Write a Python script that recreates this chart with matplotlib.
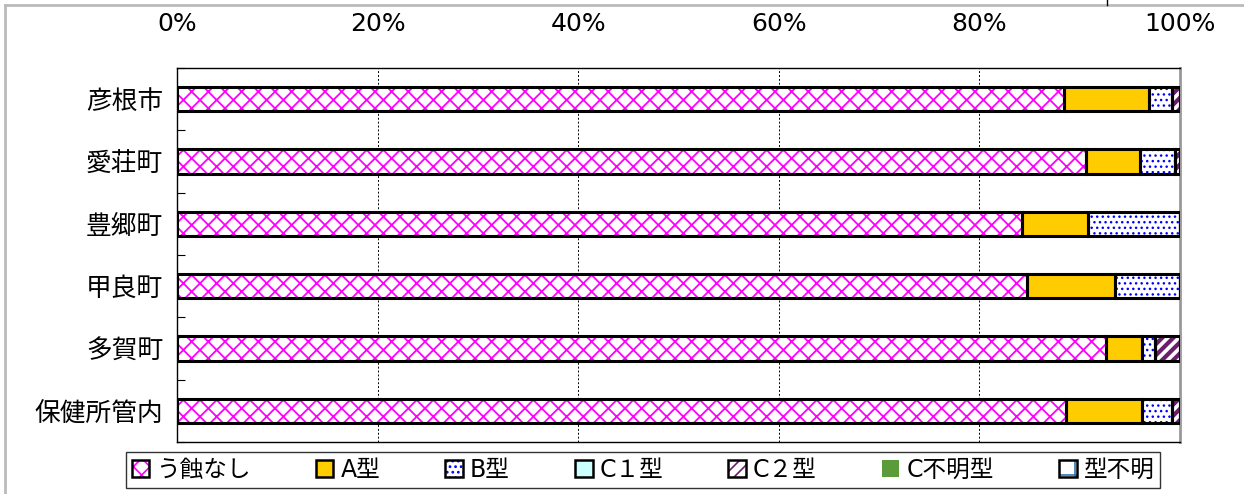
import matplotlib
matplotlib.use("Agg")
import matplotlib.pyplot as plt
from matplotlib.patches import Patch
from matplotlib.lines import Line2D
from matplotlib.legend_handler import HandlerTuple
import numpy as np

plt.rcParams['font.family'] = ['DejaVu Sans', 'Noto Sans CJK JP']
plt.rcParams['hatch.linewidth'] = 1.2

categories = ['彦根市', '愛荘町', '豊郷町', '甲良町', '多賀町', '保健所管内']
series_names = ['う蝕なし', 'A型', 'B型', 'C１型', 'C２型', 'C不明型', '型不明']
no_caries = [88.4, 90.6, 84.2, 84.7, 92.6, 88.6]
type_a = [8.5, 5.4, 6.6, 8.8, 3.6, 7.6]
type_b = [2.3, 3.5, 9.2, 6.5, 1.3, 3.0]
type_c1 = [0.0, 0.0, 0.0, 0.0, 0.0, 0.0]
type_c2 = [0.8, 0.5, 0.0, 0.0, 2.5, 0.8]
type_c_unknown = [0.0, 0.0, 0.0, 0.0, 0.0, 0.0]
type_unknown = [0.0, 0.0, 0.0, 0.0, 0.0, 0.0]
x_ticks = [0, 20, 40, 60, 80, 100]
x_tick_labels = ['0%', '20%', '40%', '60%', '80%', '100%']

series = [no_caries, type_a, type_b, type_c1, type_c2, type_c_unknown, type_unknown]
styles = [
    dict(face='white', hatch='xx', hcol='#FF00FF', hlw=1.3),
    dict(face='#FFCC00', hatch=None, hcol='#FFCC00', hlw=1.0),
    dict(face='white', hatch='...', hcol='#0000FF', hlw=1.0),
    dict(face='#CCFFFF', hatch=None, hcol='#CCFFFF', hlw=1.0),
    dict(face='white', hatch='///', hcol='#6B1E6B', hlw=3.0),
    dict(face='#5B9B3A', hatch=None, hcol='#5B9B3A', hlw=1.0),
    dict(face='white', hatch='+', hcol='#2E75B6', hlw=2.0),
]


def hatch_patch_kwargs(st):
    return dict(facecolor=st['face'], hatch=st['hatch'], edgecolor=st['hcol'], linewidth=0)


W, H = 1244, 494
fig = plt.figure(figsize=(W / 100, H / 100), dpi=100)
ax = fig.add_axes([177 / W, 1 - 442 / H, (1180 - 177) / W, (442 - 68) / H])

y = np.arange(len(categories))
left = np.zeros(len(categories))
bar_h = 0.39
for vals, st in zip(series, styles):
    vals = np.array(vals)
    with plt.rc_context({'hatch.linewidth': st['hlw']}):
        bars = ax.barh(y, vals, left=left, height=bar_h, color=st['face'],
                       hatch=st['hatch'], edgecolor=st['hcol'], linewidth=0, zorder=3)
        for b in bars:
            if hasattr(b, 'set_hatch_linewidth'):
                b.set_hatch_linewidth(st['hlw'])
    ax.barh(y, vals, left=left, height=bar_h, fill=False,
            edgecolor='black', linewidth=2.2, zorder=4)
    left = left + vals

ax.set_xlim(0, 100)
ax.set_ylim(len(categories) - 0.5, -0.5)
ax.set_yticks(y)
ax.set_yticklabels(categories, fontsize=18.5)
ax.set_yticks(np.arange(len(categories) + 1) - 0.5, minor=True)
ax.tick_params(axis='y', which='major', length=0, pad=10)
ax.tick_params(axis='y', which='minor', length=6, direction='in', width=0.8)

ax.xaxis.tick_top()
ax.set_xticks(x_ticks)
ax.set_xticklabels(x_tick_labels, fontsize=18)
ax.tick_params(axis='x', length=0, pad=23)

for xv in x_ticks[1:-1]:
    ax.axvline(xv, color='black', linestyle=(0, (2, 2)), linewidth=0.7, zorder=1)

for s in ['left', 'top', 'bottom']:
    ax.spines[s].set_color('black')
    ax.spines[s].set_linewidth(1.0)
ax.spines['right'].set_color('#999999')
ax.spines['right'].set_linewidth(2.0)

handles = []
for name, st in zip(series_names, styles):
    if st['hatch']:
        with plt.rc_context({'hatch.linewidth': min(st['hlw'], 1.5)}):
            hp = Patch(**hatch_patch_kwargs(st))
            if hasattr(hp, 'set_hatch_linewidth'):
                hp.set_hatch_linewidth(min(st['hlw'], 1.5))
        bp = Patch(fill=False, edgecolor='black', linewidth=1.8)
        handles.append((hp, bp))
    elif name == 'C不明型':
        handles.append(Patch(facecolor=st['face'], edgecolor=st['face'], linewidth=0))
    else:
        handles.append(Patch(facecolor=st['face'], edgecolor='black', linewidth=1.8))
leg = fig.legend(handles=handles, labels=series_names, loc='center', ncol=7,
                 bbox_to_anchor=(643 / W, 1 - 470 / H), fontsize=17,
                 frameon=True, fancybox=False, edgecolor='black',
                 handlelength=0.75, handleheight=0.75, handletextpad=0.3,
                 columnspacing=2.75, borderpad=0.25,
                 handler_map={tuple: HandlerTuple(ndivide=1, pad=0)})
leg.get_frame().set_linewidth(1.0)

# outer frame lines
fig.add_artist(Line2D([5 / W, 1], [1 - 5 / H, 1 - 5 / H], color='#BBBBBB', linewidth=2, transform=fig.transFigure))
fig.add_artist(Line2D([5 / W, 5 / W], [0, 1 - 5 / H], color='#BBBBBB', linewidth=2, transform=fig.transFigure))
fig.add_artist(Line2D([1107 / W, 1107 / W], [1 - 5 / H, 1], color='black', linewidth=1, transform=fig.transFigure))

fig.savefig('out.png', dpi=100)
